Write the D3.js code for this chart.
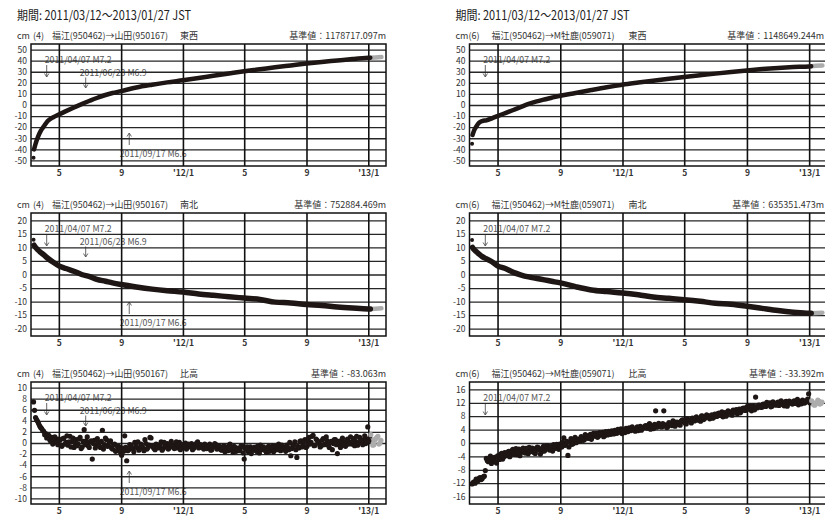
<!DOCTYPE html>
<html>
<head>
<meta charset="utf-8">
<script src="https://cdn.jsdelivr.net/npm/d3@7"></script>
<style>
  body { margin: 0; background: #fff; }
  svg { display: block; font-family: "Noto Sans CJK JP", sans-serif; }
</style>
</head>
<body>
<svg id="chart" width="825" height="518"></svg>
<script>
// sample dates for the 東西 / 南北 curves
var lineDates = ["2011-03-12","2011-03-13","2011-03-16","2011-03-21","2011-03-26","2011-04-01",
  "2011-04-09","2011-04-20","2011-05-01","2011-05-15","2011-06-01","2011-06-15","2011-07-01",
  "2011-07-15","2011-08-01","2011-08-15","2011-09-01","2011-10-01","2011-11-01","2011-12-01",
  "2012-01-01","2012-02-01","2012-03-01","2012-04-01","2012-05-01","2012-06-01","2012-07-01",
  "2012-08-01","2012-09-01","2012-10-01","2012-11-01","2012-12-01","2013-01-01","2013-01-05",
  "2013-01-15","2013-01-27"];

// (4) 福江→山田, cm
var ew4 = [-47.5,-40,-35,-28.5,-23.5,-19.5,-14.5,-11,-8.5,-5.5,-2,0.8,3.8,6.3,9,10.8,12.5,15.8,18.3,20.4,
  22.3,24.3,26.3,28.4,30.4,32.2,34,35.7,37.4,38.8,40.1,41.4,42.5,42.6,42.9,43.2];
var ns4 = [12.8,10.8,10,9,8.2,7.3,6,4.5,3.2,2.2,1.1,0,-0.8,-1.8,-2.5,-3.1,-3.7,-4.6,-5.4,-6,
  -6.5,-7.2,-7.7,-8.2,-8.7,-9.2,-10.2,-10.5,-11.1,-11.4,-12,-12.4,-12.7,-12.7,-12.6,-12.5];
// (6) 福江→M牡鹿, cm
var ew6 = [-35,-27,-23,-19,-16,-14.5,-13.8,-12,-10,-7.5,-4.5,-2,1,3,5,6.5,8.3,10.8,13.5,16,
  18.3,20.2,21.9,23.6,25.2,26.8,28.3,29.8,31.2,32.4,33.4,34.2,34.8,35,35.3,35.7];
var ns6 = [12.7,10,9.2,8.3,7.5,6.6,5.8,4.7,3.2,2.3,0.8,-0.1,-0.9,-1.4,-2,-2.5,-3.1,-4.5,-5.7,-6.3,
  -6.8,-7.5,-8.3,-8.8,-9.3,-9.9,-10.6,-11,-11.7,-12.5,-13.3,-13.9,-14.3,-14.3,-14.2,-14.1];

// 比高, read every 4 days: set "a" from 2011-03-12, set "b" from 2011-03-14
var hiStartA = "2011-03-12", hiStartB = "2011-03-14", hiStep = 4;
var hi4a = [7.4,4.6,3.9,3.1,2.6,2.1,1.7,1.2,0.6,1.0,0.2,0.8,-0.3,
  0.5,-0.6,0.9,0.1,-0.4,1.2,0.3,-0.8, 0.6,-0.2,1.0,-0.7,2.4,0.4,-0.5,0.2,
  -2.9,0.5,-0.4,0.1,-0.8,2.3,-0.3,0.6, -0.5,0.4,-1.1,-0.2,-1.4,-0.6,-1.8,-0.9,
  1.3,-3.2,-1.2,-0.4,-1.0,0.1,-0.8,-1.3, -0.2,-0.9,0.6,-1.1,-0.4,0.9,-0.7,-1.2,
  -0.3,-0.8,0.2,-1.0,-0.5,-0.1,-0.9,0.3, -0.6,-0.2,-0.9,0.1,-0.5,-0.8,0.0,-0.4,
  -0.7,-0.1,-1.0,-0.3,0.2,-0.8,-0.5,-1.1, -0.4,-0.9,-0.2,-1.2,-0.6,-0.3,-1.0,-0.7,
  -1.3,-0.5,-0.8,-1.4,-0.2,-1.0,-0.6,-1.5, -0.9,-1.2,-0.6,-2.9,-1.1,-1.6,-0.7,-1.3,
  -0.8,-1.5,-1.0,-0.4,-1.2,-0.9,-1.7,-0.6, -1.1,-0.5,-1.3,-0.8,-0.2,-1.4,-0.7,-1.0,
  -0.4,-1.2,-2.3,-0.5,0.2,-2.6,-0.9,0.4, -0.3,0.6,-0.6,1.0,0.1,1.4,-0.4,0.5,
  0.2,-0.5,0.8,-0.2,0.4,-0.8,0.3,-0.1, 0.6,-1.9,-0.3,0.5,0.0,-0.6,0.7,0.1,
  -0.2,0.8,0.3,-0.4,1.0,0.2,0.6,-0.1, 2.9,0.9,0.4,-0.3,0.8,1.2,0.0];
var hi4b = [5.9,4.2,3.5,2.8,2.3,1.5,0.9,1.4,0.3,-0.2,1.1,0.1,0.7,
  -0.4,0.8,-0.2,1.3,0.2,-0.7,0.9,0.0, -0.5,0.7,-1.0,0.3,-0.3,1.1,-0.8,0.4,
  -0.1,-0.9,0.8,-0.5,0.3,-1.1,0.9,-0.6, 0.2,-0.9,-0.3,-1.5,-0.7,-1.1,-2.2,-1.5,
  -0.8,-1.4,-0.3,-0.9,-1.6,-0.5,0.2,-1.0, -0.6,-1.4,-0.1,-0.8,1.0,-0.5,-1.0,-0.2,
  -0.9,-0.4,-1.3,0.1,-0.7,-1.1,-0.2,-0.6, -1.0,0.2,-0.4,-1.2,-0.3,-0.6,-1.1,-0.2,
  -0.5,-1.2,-0.6,0.0,-0.9,-0.3,-0.8,-0.2, -1.0,-0.5,-1.3,-0.7,-0.1,-1.1,-0.5,-1.2,
  -0.7,-1.6,-0.9,-0.4,-1.2,-1.7,-0.8,-1.1, -1.4,-0.5,-1.8,-1.0,-0.7,-1.3,-1.9,-0.9,
  -1.3,-0.6,-1.8,-1.1,-0.7,-1.4,-1.0,-1.5, -0.8,-1.6,-0.6,-1.2,-0.9,-0.4,-1.1,-1.5,
  -0.8,0.1,-1.0,-0.3,-1.2,-0.6,0.3,-0.7, 0.4,-0.8,0.2,-0.2,1.2,-0.5,0.7,0.0,
  -0.7,0.5,-0.3,1.1,-0.4,0.1,-1.2,0.6, -0.3,0.3,-0.8,0.9,-0.4,0.4,-0.2,1.1,
  0.3,-0.5,1.2,0.0,0.5,-0.3,1.3,0.7, 0.4,1.5,-0.4,0.6,1.0,-0.2,0.5];
var hi6a = [-12.2,-11.6,-10.8,-11.2,-10.3,-10.6,-9.9,-4.6,-5.6,-3.9,-5.1,-4.3,-6.0,
  -4.0,-3.4,-4.8,-2.9,-3.8,-2.5,-3.3,-1.9, -2.6,-3.5,-1.8,-2.8,-1.5,-3.0,-2.2,-1.3,
  -2.4,-1.7,-3.1,-1.2,-2.0,-2.7,-1.0,-1.9, -0.8,-2.1,-1.4,-0.5,-1.6,-0.9,-0.3,-1.2,
  1.5,-0.6,-3.7,0.2,-0.4,0.8,0.1,1.2, 0.6,1.6,1.0,2.2,1.4,2.6,1.8,2.3,
  2.9,2.0,2.5,3.2,2.2,2.8,3.5,2.6, 3.0,3.8,2.9,3.4,4.2,3.6,3.1,4.0,
  4.5,3.7,4.2,3.5,4.8,4.1,3.8,4.6, 5.2,4.4,5.8,4.9,4.3,9.6,5.0,5.5,
  4.8,9.6,5.4,4.9,5.9,5.2,6.3,5.6, 6.0,5.3,6.8,6.2,5.7,7.0,6.4,7.4,
  6.6,7.8,7.1,6.5,8.0,7.3,8.4,7.7, 8.1,7.4,8.6,7.9,8.9,8.3,7.8,9.1,
  8.6,9.4,8.8,9.8,9.2,8.7,10.1,9.5, 10.4,9.7,10.9,10.2,9.6,11.1,13.7,10.5,
  11.2,10.6,11.6,10.9,11.4,12.0,11.0,11.7, 11.3,12.2,11.5,12.0,11.1,12.4,11.8,12.1,
  11.6,12.6,12.0,11.4,12.3,12.8,11.9,12.4, 14.7,12.2,11.7,11.3,11.9,12.5,11.8];
var hi6b = [-11.8,-12.0,-11.3,-10.5,-10.9,-10.1,-8.2,-5.3,-4.4,-6.1,-4.8,-5.5,-3.8,
  -4.9,-3.1,-4.2,-3.6,-2.7,-4.1,-2.3,-3.4, -1.7,-2.9,-3.8,-2.1,-2.5,-1.6,-3.2,-2.6,
  -1.5,-2.9,-2.2,-1.4,-3.3,-1.6,-2.4,-0.9, -1.7,-1.1,-2.4,-1.0,-0.4,-1.9,-1.1,0.2,
  -0.7,0.5,-1.2,1.3,-0.2,1.7,0.4,0.9, 1.9,0.8,2.5,1.5,2.0,1.1,2.9,2.1,
  1.7,3.1,2.6,1.9,3.4,2.4,3.0,3.6, 2.7,3.3,4.1,3.2,2.8,3.9,4.4,3.4,
  3.9,4.8,4.0,4.4,3.7,5.0,4.3,4.9, 4.6,5.4,4.1,5.1,5.6,4.7,5.9,4.9,
  5.8,5.1,4.6,6.1,5.5,6.6,5.0,6.2, 5.6,6.5,6.9,5.9,7.2,6.7,6.0,7.0,
  7.5,6.8,7.3,8.1,7.0,7.7,8.2,7.2, 8.4,7.7,8.0,8.8,8.2,9.3,8.5,8.0,
  9.6,9.0,8.3,9.5,10.0,9.4,9.0,10.3, 9.9,10.6,10.1,11.0,10.5,9.9,10.8,11.3,
  10.8,11.5,11.0,12.1,11.4,10.8,12.3,11.5, 12.0,11.2,12.6,11.6,12.3,11.0,12.5,11.9,
  12.4,11.8,13.0,12.1,11.7,12.6,12.2,13.1, 12.0,12.6,11.4,12.0,12.8,11.6,12.2];

var prelimFrom = "2013-01-05";   // later values drawn grey

var monthTicks = ["2011-05-01","2011-09-01","2012-01-01","2012-05-01","2012-09-01","2013-01-01"];
var monthLabels = ["5","9","'12/1","5","9","'13/1"];

var ticksEW = [50,40,30,20,10,0,-10,-20,-30,-40,-50];
var ticksNS = [20,15,10,5,0,-5,-10,-15,-20];
var ticksHi4 = [10,8,6,4,2,0,-2,-4,-6,-8,-10];
var ticksHi6 = [16,12,8,4,0,-4,-8,-12,-16];

var eventDates = ["2011-04-07","2011-06-23","2011-09-17"];
var eventLabels = ["2011/04/07 M7.2","2011/06/23 M6.9","2011/09/17 M6.6"];

var periodText = "期間: 2011/03/12～2013/01/27 JST";
var lineNos = ["(4)", "(6)"];
var lineNames = ["福江(950462)→山田(950167)", "福江(950462)→M牡鹿(059071)"];

var parse = d3.timeParse("%Y-%m-%d");
var svg = d3.select("#chart");

var cols = [
  {x0: 31, x1: 386, noDx: 2, nameDx: 21, nameLen: 116, dirDx: 149},
  {x0: 469.5, x1: 827, noDx: -1, nameDx: 22, nameLen: 123, dirDx: 159}
];
var rows = [{top: 44, bottom: 166}, {top: 213, bottom: 336}, {top: 382, bottom: 504}];

var panels = [
  {col: 0, row: 0, kind: "line", vals: [ew4], dom: [-55, 55], ticks: ticksEW, dir: "東西", base: "1178717.097m"},
  {col: 0, row: 1, kind: "line", vals: [ns4], dom: [-22.7, 22.7], ticks: ticksNS, dir: "南北", base: "752884.469m"},
  {col: 0, row: 2, kind: "dots", vals: [hi4a, hi4b], dom: [-11, 11], ticks: ticksHi4, dir: "比高", base: "-83.063m"},
  {col: 1, row: 0, kind: "line", vals: [ew6], dom: [-55, 55], ticks: ticksEW, dir: "東西", base: "1148649.244m"},
  {col: 1, row: 1, kind: "line", vals: [ns6], dom: [-22.7, 22.7], ticks: ticksNS, dir: "南北", base: "635351.473m"},
  {col: 1, row: 2, kind: "dots", vals: [hi6a, hi6b], dom: [-18.2, 18.2], ticks: ticksHi6, dir: "比高", base: "-33.392m"}
];

// arrow / label placement inside a panel (px from panel top)
var annot = [
  {ly: 18.5, dx: -2, a0: 21, a1: 33},
  {ly: 31.5, dx: -6, a0: 33.5, a1: 44},
  {ly: 113, dx: -9.5, a0: 101, a1: 89}
];

var ink = "#1e1515", grey = "#acacac";
var prelim = parse(prelimFrom);

[0, 1].forEach(function(ci) {
  svg.append("text")
    .attr("x", cols[ci].x0 - 14).attr("y", 20)
    .attr("font-size", 12.5).attr("fill", "#222")
    .attr("textLength", 174).attr("lengthAdjust", "spacingAndGlyphs")
    .text(periodText);
});

panels.forEach(function(p) {
  var c = cols[p.col], r = rows[p.row];
  var g = svg.append("g");

  var x = d3.scaleTime()
    .domain([parse("2011-03-07"), parse("2013-02-05")])
    .range([c.x0, c.x1]);
  var y = d3.scaleLinear().domain(p.dom).range([r.bottom, r.top]);

  // heading
  var hy = r.top - 5;
  function head(tx, xx) {
    return g.append("text").attr("x", xx).attr("y", hy)
      .attr("font-size", 9).attr("fill", "#333").text(tx);
  }
  head("cm", c.x0 - 14);
  head(lineNos[p.col], c.x0 + c.noDx);
  head(lineNames[p.col], c.x0 + c.nameDx)
    .attr("textLength", c.nameLen).attr("lengthAdjust", "spacingAndGlyphs");
  head(p.dir, c.x0 + c.dirDx);
  head("基準値：" + p.base, Math.min(c.x1, 824)).attr("text-anchor", "end");

  // quake annotations (under the grid)
  var nEv = p.col === 0 ? 3 : 1;
  for (var k = 0; k < nEv; k++) {
    var ex = x(parse(eventDates[k])), a = annot[k];
    g.append("text")
      .attr("x", ex + a.dx).attr("y", r.top + a.ly)
      .attr("font-size", 9).attr("fill", "#555")
      .attr("textLength", 67).attr("lengthAdjust", "spacingAndGlyphs")
      .text(eventLabels[k]);
    var y0 = r.top + a.a0, y1 = r.top + a.a1, s = y1 > y0 ? -1 : 1;
    g.append("path")
      .attr("d", "M" + ex + "," + y0 + "V" + y1 +
        "M" + (ex - 2.2) + "," + (y1 + s * 3.5) + "L" + ex + "," + y1 + "L" + (ex + 2.2) + "," + (y1 + s * 3.5))
      .attr("fill", "none").attr("stroke", "#555").attr("stroke-width", 0.9);
  }

  // horizontal grid + y labels
  var ya = g.append("g").attr("transform", "translate(" + c.x0 + ",0)")
    .call(d3.axisLeft(y).tickValues(p.ticks).tickSize(-(c.x1 - c.x0)).tickPadding(4)
      .tickFormat(function(d) { return String(d); }));
  ya.select(".domain").remove();
  ya.selectAll("line").attr("stroke", "#262626").attr("stroke-width", 1.3);
  ya.selectAll("text").attr("font-size", 8.5).attr("fill", "#333")
    .attr("font-family", "'Noto Sans CJK JP', sans-serif");

  // month grid + labels
  var xa = g.append("g").attr("transform", "translate(0," + r.bottom + ")")
    .call(d3.axisBottom(x).tickValues(monthTicks.map(parse)).tickSize(-(r.bottom - r.top)).tickPadding(4)
      .tickFormat(function(d, i) { return monthLabels[i]; }));
  xa.select(".domain").remove();
  xa.selectAll("line").attr("stroke", "#111").attr("stroke-width", 1.6);
  xa.selectAll("text").attr("font-size", 8.5).attr("font-weight", 700).attr("fill", "#333")
    .attr("font-family", "'Noto Sans CJK JP', sans-serif");

  // data
  if (p.kind === "line") {
    var pts = lineDates.map(function(s, i) { return {date: parse(s), v: p.vals[0][i]}; });
    var line = d3.line().x(function(d) { return x(d.date); }).y(function(d) { return y(d.v); })
      .curve(d3.curveMonotoneX);
    g.append("path").datum(pts.filter(function(d) { return d.date >= prelim; }))
      .attr("d", line).attr("fill", "none").attr("stroke", grey)
      .attr("stroke-width", 4.5).attr("stroke-linecap", "round");
    g.append("path").datum(pts.slice(1).filter(function(d) { return d.date <= prelim; }))
      .attr("d", line).attr("fill", "none").attr("stroke", ink)
      .attr("stroke-width", p.row === 0 ? 4.5 : 5.5).attr("stroke-linecap", "round");
    g.append("circle").attr("cx", x(pts[0].date)).attr("cy", y(pts[0].v))
      .attr("r", 2).attr("fill", ink);
  } else {
    var dots = [];
    [hiStartA, hiStartB].forEach(function(st, si) {
      var t0 = parse(st);
      p.vals[si].forEach(function(v, i) {
        dots.push({date: d3.timeDay.offset(t0, i * hiStep), v: v});
      });
    });
    g.selectAll("circle.pt").data(dots).enter().append("circle")
      .attr("class", "pt")
      .attr("cx", function(d) { return x(d.date); })
      .attr("cy", function(d) { return y(d.v); })
      .attr("r", 2.6)
      .attr("fill", function(d) { return d.date > prelim ? grey : ink; });
  }

  // frame
  g.append("rect").attr("x", c.x0).attr("y", r.top)
    .attr("width", c.x1 - c.x0).attr("height", r.bottom - r.top)
    .attr("fill", "none").attr("stroke", "#111").attr("stroke-width", 1.5);
});
</script>
</body>
</html>
